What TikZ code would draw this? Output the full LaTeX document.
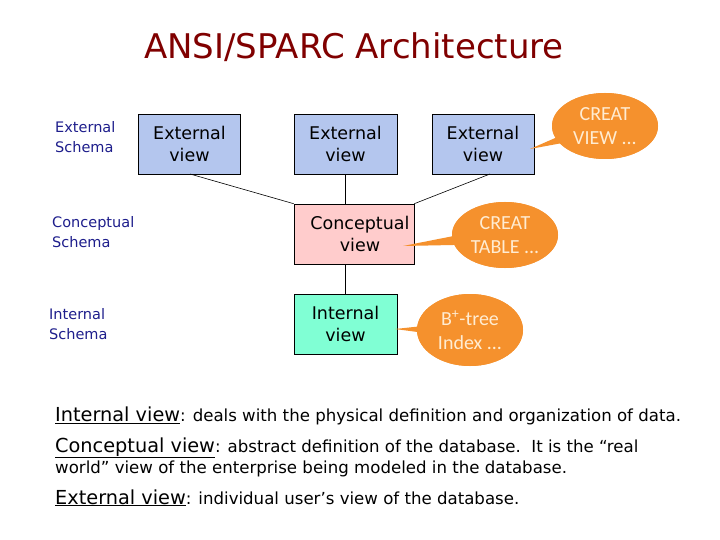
\documentclass[tikz,border=0pt]{standalone}
\usepackage{fontspec}
\setmainfont{DejaVu Sans}
\newfontfamily\calloutfont{Carlito}
\usetikzlibrary{calc,shapes.geometric}
\definecolor{titlered}{RGB}{128,0,0}
\definecolor{labelblue}{RGB}{30,30,140}
\definecolor{extblue}{RGB}{180,198,238}
\definecolor{conpink}{RGB}{255,204,204}
\definecolor{intaqua}{RGB}{128,255,212}
\definecolor{callorange}{RGB}{245,145,45}
\definecolor{calltext}{RGB}{255,236,210}
\begin{document}
\begin{tikzpicture}[x=1pt,y=-1pt,
  viewbox/.style={draw=black,line width=0.6pt,minimum width=#1,minimum height=60pt,inner sep=0pt,align=center,font=\fontsize{17.5}{22}\selectfont},
  schemalabel/.style={anchor=west,align=left,inner sep=0pt,text=labelblue,font=\fontsize{14.5}{19.5}\selectfont},
  callout/.style={ellipse,fill=callorange,minimum width=106pt,minimum height=66pt,inner sep=0pt,align=center,text=calltext,font=\calloutfont\fontsize{20}{24}\selectfont},
  link/.style={draw=black,line width=0.6pt},
  desc/.style={anchor=base west,inner sep=0pt,font=\fontsize{16.6}{20}\selectfont},
  head/.style={font=\fontsize{19.3}{20}\selectfont}]
\useasboundingbox (0,0) rectangle (720,540);
\fill[white] (0,0) rectangle (720,540);
% title
\node[text=titlered,font=\fontsize{34}{36}\selectfont,inner sep=0pt] (title) at (354,47) {ANSI/SPARC Architecture};
% schema labels
\node[schemalabel] (ls1) at (55,137) {External\\Schema};
\node[schemalabel] (ls2) at (52,232) {Conceptual\\Schema};
\node[schemalabel] (ls3) at (49,324) {Internal\\Schema};
% view boxes
\node[viewbox=102pt,fill=extblue] (ev1) at (189.5,144) {External\\view};
\node[viewbox=103pt,fill=extblue] (ev2) at (345.5,144) {External\\view};
\node[viewbox=102pt,fill=extblue] (ev3) at (483,144) {External\\view};
\node[viewbox=120pt,fill=conpink] (cv) at (354,234) {\hspace*{12pt}Conceptual\\\hspace*{12pt}view};
\node[viewbox=103pt,fill=intaqua] (iv) at (345.5,324) {Internal\\view};
% connectors
\coordinate (e1b) at (190,174);
\coordinate (e3b) at (490,174);
\draw[link] (e1b) -- (cv.north west);
\draw[link] (ev2.south) -- (ev2.south |- cv.north);
\draw[link] (e3b) -- (cv.north east);
\draw[link] (iv.north |- cv.south) -- (iv.north);
% callouts
\coordinate (t1) at (530,149);
\coordinate (t2) at (403,246);
\coordinate (t3) at (395,329);
\node[callout] (c1) at (605,126) {CREAT\\VIEW ...};
\node[callout] (c2) at (505,235) {CREAT\\TABLE ...};
\node[callout,minimum height=72pt] (c3) at (470,330) {B\textsuperscript{+}-tree\\Index ...};
\foreach \t/\c in {t1/c1,t2/c2,t3/c3}{
  \fill[callorange] (\t) -- ($(\c.center)!9pt!90:(\t)$) -- ($(\c.center)!9pt!-90:(\t)$) -- cycle;
}
\node[callout] at (c1.center) {CREAT\\VIEW ...};
\node[callout] at (c2.center) {CREAT\\TABLE ...};
\node[callout,minimum height=72pt] at (c3.center) {B\textsuperscript{+}-tree\\Index ...};
% descriptions
\node[desc] (d1) at (55,421.5) {{\fontsize{19.3}{20}\selectfont\underline{Internal view}}: deals with the physical definition and organization of data.};
\node[desc] (d2) at (55,452) {{\fontsize{19.3}{20}\selectfont\underline{Conceptual view}}: abstract definition of the database.\ \ It is the “real};
\node[desc] (d3) at (55,473) {world” view of the enterprise being modeled in the database.};
\node[desc] (d4) at (55,504) {{\fontsize{19.3}{20}\selectfont\underline{External view}}: individual user’s view of the database.};
\end{tikzpicture}
\end{document}
